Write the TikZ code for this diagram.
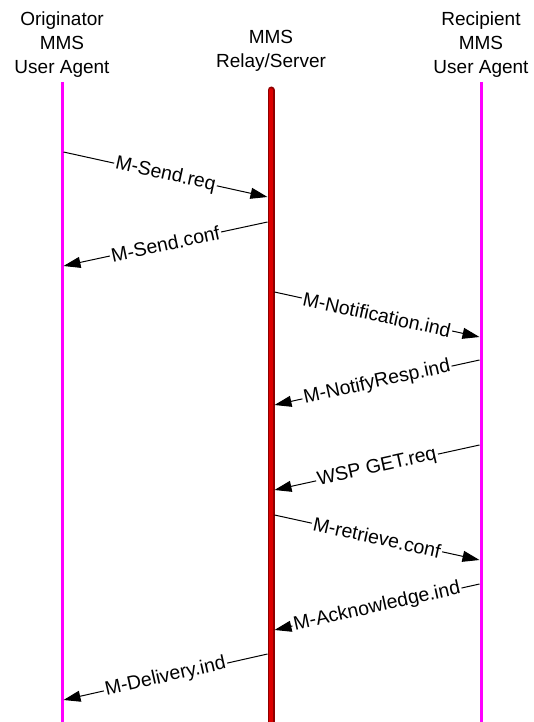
\documentclass[tikz,border=0pt]{standalone}
\usepackage{fontspec}
\setmainfont{Liberation Sans}
\usetikzlibrary{arrows.meta}
\definecolor{lifemag}{HTML}{FF00FF}
\definecolor{srvdark}{HTML}{8E0000}
\definecolor{srvred}{HTML}{DD0000}
\begin{document}
\begin{tikzpicture}[x=1pt,y=-1pt,
  hdr/.style={align=center,font=\fontsize{19}{24.3}\selectfont,inner sep=0pt,anchor=base},
  life/.style={line width=3pt,draw=lifemag},
  msg/.style={line width=1pt,-{Triangle[length=17pt,width=11pt]}},
  lbl/.style={fill=white,sloped,midway,font=\fontsize{19.5}{22}\selectfont,inner xsep=1.5pt,inner ysep=1pt}]
\useasboundingbox (0,0) rectangle (533,722);
% headers
\node[hdr] (hL) at (62,74) {Originator\\MMS\\User Agent};
\node[hdr] (hM) at (271,68) {MMS\\Relay/Server};
\node[hdr] (hR) at (481,74) {Recipient\\MMS\\User Agent};
% lifelines
\coordinate (Lt) at (62,82);  \coordinate (Lb) at (62,722);
\coordinate (Mt) at (271,90); \coordinate (Mb) at (271,724);
\coordinate (Rt) at (481,82); \coordinate (Rb) at (481,722);
\draw[life] (Lt) -- (Lb);
\draw[life] (Rt) -- (Rb);
\draw[line width=7pt,draw=srvdark,line cap=round] (Mt) -- (Mb);
\draw[line width=3.5pt,draw=srvred,line cap=round] (Mt) -- (Mb);
% message end points
\coordinate (m1a) at (63.5,152);  \coordinate (m1b) at (267.5,197);
\coordinate (m2a) at (267.5,222); \coordinate (m2b) at (63.5,266);
\coordinate (m3a) at (274.5,292); \coordinate (m3b) at (479.5,337);
\coordinate (m4a) at (479.5,360); \coordinate (m4b) at (274.5,405);
\coordinate (m5a) at (479.5,445); \coordinate (m5b) at (274.5,490);
\coordinate (m6a) at (274.5,515); \coordinate (m6b) at (479.5,560);
\coordinate (m7a) at (479.5,584); \coordinate (m7b) at (274.5,630);
\coordinate (m8a) at (267.5,654); \coordinate (m8b) at (63.5,700);
% messages
\draw[msg] (m1a) -- node[lbl] (t1) {M-Send.req} (m1b);
\draw[msg] (m2a) -- node[lbl] (t2) {M-Send.conf} (m2b);
\draw[msg] (m3a) -- node[lbl] (t3) {M-Notification.ind} (m3b);
\draw[msg] (m4a) -- node[lbl] (t4) {M-NotifyResp.ind} (m4b);
\draw[msg] (m5a) -- node[lbl] (t5) {WSP GET.req} (m5b);
\draw[msg] (m6a) -- node[lbl] (t6) {M-retrieve.conf} (m6b);
\draw[msg] (m7a) -- node[lbl] (t7) {M-Acknowledge.ind} (m7b);
\draw[msg] (m8a) -- node[lbl] (t8) {M-Delivery.ind} (m8b);
\end{tikzpicture}
\end{document}
